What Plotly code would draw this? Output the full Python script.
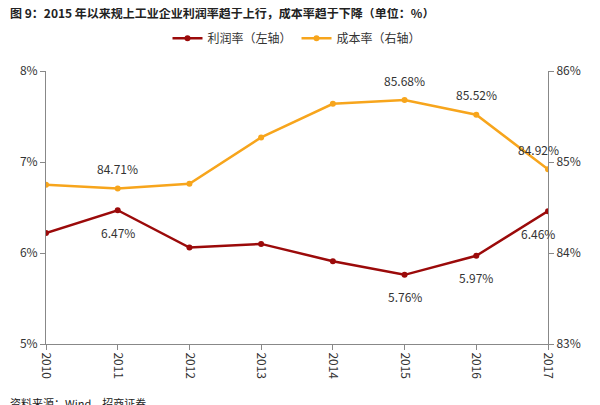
import plotly.graph_objects as go

years = ["2010", "2011", "2012", "2013", "2014", "2015", "2016", "2017"]
profit_rate = [6.22, 6.47, 6.06, 6.10, 5.91, 5.76, 5.97, 6.46]
cost_rate = [84.75, 84.71, 84.76, 85.27, 85.64, 85.68, 85.52, 84.92]
profit_labels = {1: "6.47%", 5: "5.76%", 6: "5.97%", 7: "6.46%"}
cost_labels = {1: "84.71%", 5: "85.68%", 6: "85.52%", 7: "84.92%"}

red = "#9B0A0A"
orange = "#F7A51C"
font_cjk = "Noto Sans CJK SC"

fig = go.Figure()
fig.add_trace(go.Scatter(
    x=years, y=profit_rate, name="利润率（左轴）", mode="lines+markers",
    line=dict(color=red, width=2.5), marker=dict(size=6, color=red),
))
fig.add_trace(go.Scatter(
    x=years, y=cost_rate, name="成本率（右轴）", mode="lines+markers", yaxis="y2",
    line=dict(color=orange, width=2.5), marker=dict(size=6, color=orange),
))

# data labels (category index positions)
for i, t in profit_labels.items():
    fig.add_annotation(x=i, y=profit_rate[i], text=t, showarrow=False,
                       xshift=-10 if i == 7 else 0, yshift=-22,
                       font=dict(size=12, color="#333"))
for i, t in cost_labels.items():
    fig.add_annotation(x=i, y=cost_rate[i], yref="y2", text=t, showarrow=False,
                       xshift=-10 if i == 7 else 0, yshift=20,
                       font=dict(size=12, color="#333"))

fig.add_annotation(xref="paper", yref="paper", x=-0.075, y=1.215, xanchor="left", yanchor="middle",
                   text="<b>图 9：2015 年以来规上工业企业利润率趋于上行，成本率趋于下降（单位：%）</b>",
                   showarrow=False, font=dict(size=12, color="#222", family=font_cjk))
fig.add_annotation(xref="paper", yref="paper", x=-0.075, y=-0.215, xanchor="left", yanchor="middle",
                   text="资料来源：Wind，招商证券", showarrow=False,
                   font=dict(size=11, color="#222", family=font_cjk))

fig.update_layout(
    width=600, height=405,
    paper_bgcolor="white", plot_bgcolor="white",
    margin=dict(l=38, r=60, t=63, b=69),
    font=dict(family=font_cjk, size=12, color="#333"),
    showlegend=True,
    legend=dict(orientation="h", x=0.5, xanchor="center", y=1.12, yanchor="middle",
                font=dict(size=12), bgcolor="rgba(0,0,0,0)"),
    xaxis=dict(type="category", tickangle=90, showline=True, linecolor="#888",
               ticks="outside", tickcolor="#888", showgrid=False, range=[0, 7]),
    yaxis=dict(range=[5, 8], dtick=1, ticksuffix="%", showline=True, linecolor="#888",
               showgrid=False, zeroline=False, ticks="outside", tickcolor="#888"),
    yaxis2=dict(range=[83, 86], dtick=1, ticksuffix="%", overlaying="y", side="right",
                showline=True, linecolor="#888", showgrid=False, zeroline=False,
                ticks="outside", tickcolor="#888"),
)

fig.write_html("out.html")
